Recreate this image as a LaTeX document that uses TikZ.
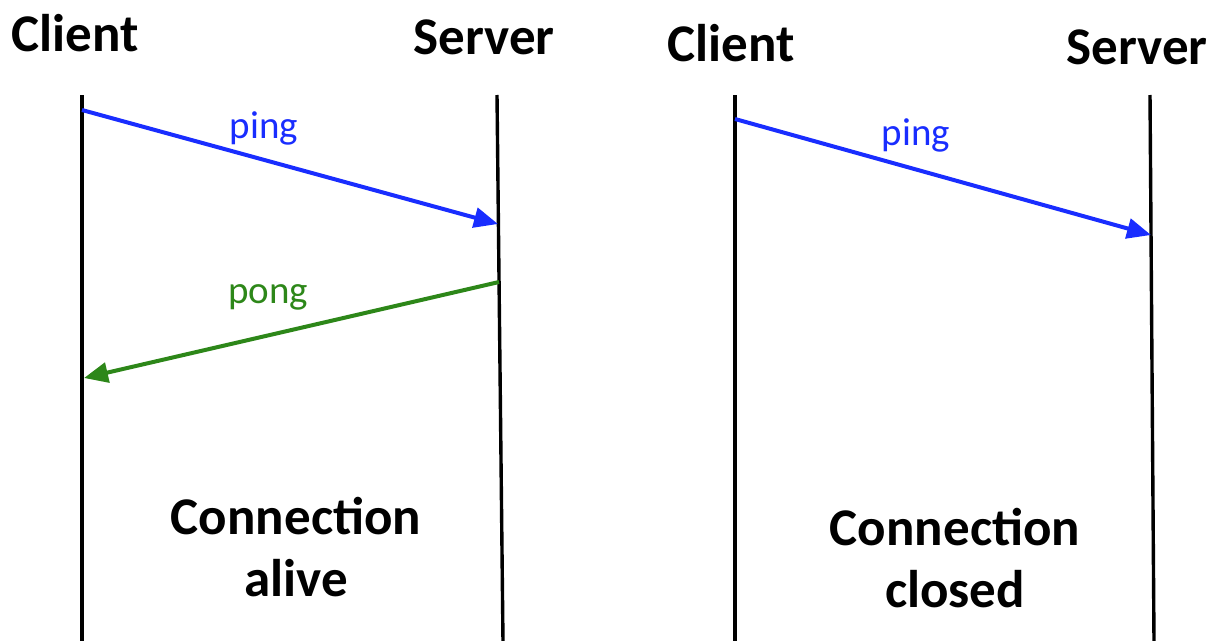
\documentclass[tikz,border=0pt]{standalone}
\usepackage{fontspec}
\setmainfont{Carlito}
\usetikzlibrary{arrows.meta}
\definecolor{pingblue}{RGB}{25,45,255}
\definecolor{ponggreen}{RGB}{45,135,25}
\begin{document}
\begin{tikzpicture}[x=1pt,y=-1pt,
  lifeline/.style={line width=3.4pt,black},
  msg/.style={line width=4pt,-{Triangle[length=24pt,width=20pt]}},
  head/.style={font=\fontsize{53}{60}\selectfont\bfseries,inner sep=0pt},
  lbl/.style={font=\fontsize{39}{44}\selectfont,inner sep=0pt},
  state/.style={font=\fontsize{53}{62}\selectfont\bfseries,align=center,inner sep=0pt}]
\useasboundingbox (0,0) rectangle (1212,640);
% ---- left diagram ----
\node[head] (c1) at (75,33) {Client};
\node[head] (s1) at (484,37) {Server};
\coordinate (c1t) at (82,95);
\coordinate (c1b) at (82,642);
\coordinate (s1t) at (497,95);
\coordinate (s1b) at (503,642);
\draw[lifeline] (c1t) -- (c1b);
\draw[lifeline] (s1t) -- (s1b);
\coordinate (p1a) at (82,110);
\coordinate (p1b) at (498,224);
\draw[msg,pingblue] (p1a) -- (p1b);
\node[lbl,text=pingblue] (pl1) at (264,128) {ping};
\coordinate (g1a) at (499,282);
\coordinate (g1b) at (84,378);
\draw[msg,ponggreen] (g1a) -- (g1b);
\node[lbl,text=ponggreen] (gl1) at (268,297) {pong};
\node[state] (st1) at (296,547) {Connection\\alive};
% ---- right diagram ----
\node[head] (c2) at (731,43) {Client};
\node[head] (s2) at (1137,47) {Server};
\coordinate (c2t) at (735,95);
\coordinate (c2b) at (735,642);
\coordinate (s2t) at (1150,95);
\coordinate (s2b) at (1154,642);
\draw[lifeline] (c2t) -- (c2b);
\draw[lifeline] (s2t) -- (s2b);
\coordinate (p2a) at (735,119);
\coordinate (p2b) at (1151,235);
\draw[msg,pingblue] (p2a) -- (p2b);
\node[lbl,text=pingblue] (pl2) at (916,135) {ping};
\node[state] (st2) at (955,558) {Connection\\closed};
\end{tikzpicture}
\end{document}
